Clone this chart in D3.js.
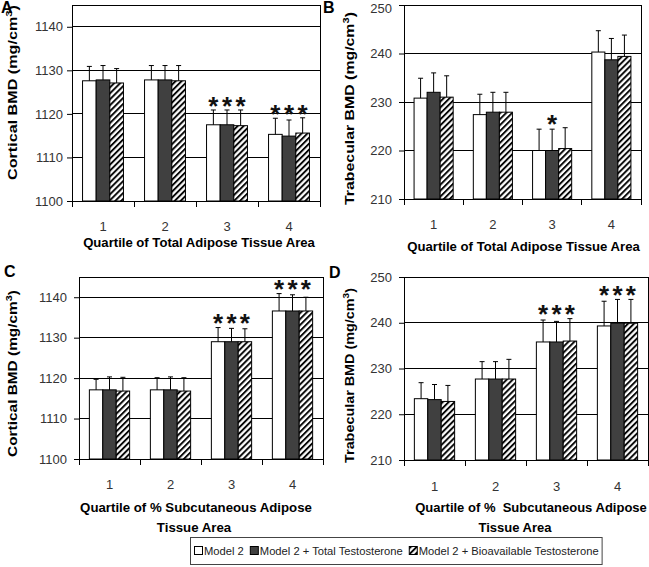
<!DOCTYPE html>
<html><head><meta charset="utf-8">
<script src="https://cdn.jsdelivr.net/npm/d3@7"></script>
<style>body{margin:0;background:#fff}svg{display:block}</style>
</head><body>
<script>
// ---------- DATA ----------
const categories = ["1", "2", "3", "4"];
const seriesNames = ["Model 2", "Model 2 + Total Testosterone", "Model 2 + Bioavailable Testosterone"];

// Panel A: Cortical BMD by quartile of total adipose tissue area
const aModel2 = [1127.6, 1127.8, 1117.5, 1115.3];
const aTotalT = [1127.8, 1127.8, 1117.5, 1114.9];
const aBioT   = [1127.1, 1127.6, 1117.3, 1115.6];
const aModel2Upper = [1130.9, 1131.1, 1120.9, 1119.0];
const aTotalTUpper = [1131.1, 1131.1, 1120.9, 1118.6];
const aBioTUpper   = [1130.4, 1131.1, 1120.9, 1119.1];
const aStars = [[0,0,0],[0,0,0],[1,1,1],[1,1,1]];
const aTicks = [1100, 1110, 1120, 1130, 1140];

// Panel B: Trabecular BMD by quartile of total adipose tissue area
const bModel2 = [230.8, 227.4, 220.0, 240.3];
const bTotalT = [232.0, 227.9, 220.0, 238.7];
const bBioT   = [231.0, 227.9, 220.4, 239.4];
const bModel2Upper = [234.9, 231.6, 224.4, 244.7];
const bTotalTUpper = [236.0, 232.0, 224.4, 243.1];
const bBioTUpper   = [235.4, 232.0, 224.7, 243.8];
const bStars = [[0,0,0],[0,0,0],[0,1,0],[0,0,0]];
const bTicks = [210, 220, 230, 240, 250];

// Panel C: Cortical BMD by quartile of % subcutaneous adipose tissue area
const cModel2 = [1117.1, 1117.1, 1129.0, 1136.6];
const cTotalT = [1117.1, 1117.1, 1129.0, 1136.6];
const cBioT   = [1116.8, 1116.8, 1129.0, 1136.6];
const cModel2Upper = [1119.7, 1120.1, 1132.5, 1140.9];
const cTotalTUpper = [1120.3, 1120.3, 1132.3, 1140.6];
const cBioTUpper   = [1120.2, 1120.1, 1132.2, 1140.0];
const cStars = [[0,0,0],[0,0,0],[1,1,1],[1,1,1]];
const cTicks = [1100, 1110, 1120, 1130, 1140];

// Panel D: Trabecular BMD by quartile of % subcutaneous adipose tissue area
const dModel2 = [223.4, 227.7, 235.8, 239.3];
const dTotalT = [223.2, 227.7, 235.8, 239.9];
const dBioT   = [222.8, 227.7, 236.0, 239.9];
const dModel2Upper = [226.9, 231.5, 240.6, 244.7];
const dTotalTUpper = [226.5, 231.5, 240.3, 245.1];
const dBioTUpper   = [226.3, 232.0, 240.9, 245.1];
const dStars = [[0,0,0],[0,0,0],[1,1,1],[1,1,1]];
const dTicks = [210, 220, 230, 240, 250];

// ---------- LAYOUT ----------
const W = 649, H = 567;
const svg = d3.select("body").append("svg").attr("width", W).attr("height", H);
const defs = svg.append("defs");
const pat = defs.append("pattern").attr("id", "hatch").attr("patternUnits", "userSpaceOnUse")
  .attr("width", 4.2).attr("height", 4.2).attr("patternTransform", "rotate(45)");
pat.append("rect").attr("width", 4.2).attr("height", 4.2).attr("fill", "#fff");
pat.append("line").attr("x1", 1).attr("y1", 0).attr("x2", 1).attr("y2", 4.2)
  .attr("stroke", "#000").attr("stroke-width", 1.9);

const fills = ["#ffffff", "#404040", "url(#hatch)"];
const fontReg = "'Liberation Sans', Arial, sans-serif";
const titleSize = 13.5;

const panels = [
  {letter: "A", lx: 1, ly: 13, left: 72, right: 320, top: 5, bottom: 201, domain: [1100, 1145], ticks: aTicks,
   series: [aModel2, aTotalT, aBioT], upper: [aModel2Upper, aTotalTUpper, aBioTUpper], stars: aStars, pad: 4,
   yTitle: ["Cortical BMD (mg/cm", "3", ")"], yx: 16.5, yc: 92.5, yLen: 175,
   xTitle: [["Quartile of Total Adipose Tissue Area", 199, 246.5, 232]], catY: 231},
  {letter: "B", lx: 323, ly: 13, left: 404, right: 641, top: 5, bottom: 199, domain: [210, 250], ticks: bTicks,
   series: [bModel2, bTotalT, bBioT], upper: [bModel2Upper, bTotalTUpper, bBioTUpper], stars: bStars, pad: 7,
   yTitle: ["Trabecular BMD (mg/cm", "3", ")"], yx: 353.5, yc: 108.5, yLen: 193,
   xTitle: [["Quartile of Total Adipose Tissue Area", 523.5, 250.5, 233]], catY: 229},
  {letter: "C", lx: 4, ly: 277, left: 79, right: 323, top: 277, bottom: 459, domain: [1100, 1145], ticks: cTicks,
   series: [cModel2, cTotalT, cBioT], upper: [cModel2Upper, cTotalTUpper, cBioTUpper], stars: cStars, pad: 7,
   yTitle: ["Cortical BMD (mg/cm", "3", ")"], yx: 16.5, yc: 373.5, yLen: 167,
   xTitle: [["Quartile of % Subcutaneous Adipose", 196, 511.5, 232], ["Tissue Area", 194, 531.5, null]], catY: 489},
  {letter: "D", lx: 329, ly: 278, left: 404, right: 648, top: 277, bottom: 460, domain: [210, 250], ticks: dTicks,
   series: [dModel2, dTotalT, dBioT], upper: [dModel2Upper, dTotalTUpper, dBioTUpper], stars: dStars, pad: 7,
   yTitle: ["Trabecular BMD (mg/cm", "3", ")"], yx: 353.5, yc: 375.5, yLen: 175,
   xTitle: [["Quartile of %\u00a0 Subcutaneous Adipose", 531, 511.5, 232], ["Tissue Area", 515, 532, null]], catY: 491}
];

function fitH(t, cx, cy, target, rotate, forcedScale) {
  const w = t.node().getComputedTextLength();
  const s = forcedScale || target / w;
  t.attr("text-anchor", "middle").attr("x", 0).attr("y", 0)
   .attr("transform", `translate(${cx},${cy})${rotate ? " rotate(-90)" : ""} scale(${s},1)`);
  return s;
}

panels.forEach(p => {
  const g = svg.append("g");
  const y = d3.scaleLinear().domain(p.domain).range([p.bottom, p.top]);
  const x = d3.scaleBand().domain(categories).range([p.left, p.right]);
  const bw = x.bandwidth() * 0.22;

  // gridlines
  g.selectAll(".grid").data(p.ticks.filter(t => t > p.domain[0])).enter().append("line")
    .attr("x1", p.left).attr("x2", p.right).attr("y1", d => y(d)).attr("y2", d => y(d))
    .attr("stroke", "#000").attr("stroke-width", 1).attr("shape-rendering", "crispEdges");
  // frame
  g.append("path").attr("d", `M${p.left},${p.bottom}V${p.top}H${p.right}V${p.bottom}`)
    .attr("fill", "none").attr("stroke", "#000").attr("shape-rendering", "crispEdges");

  // bars
  categories.forEach((c, ci) => {
    const x0 = x(c) + x.bandwidth() / 2 - 1.5 * bw;
    p.series.forEach((s, si) => {
      const v = s[ci];
      g.append("rect").attr("x", x0 + si * bw).attr("y", y(v)).attr("width", bw)
        .attr("height", y(p.domain[0]) - y(v)).attr("fill", fills[si])
        .attr("stroke", "#000").attr("stroke-width", 1);
    });
    p.series.forEach((s, si) => {
      const cx = x0 + si * bw + bw / 2;
      const v = s[ci], u = p.upper[si][ci];
      g.append("line").attr("x1", cx).attr("x2", cx).attr("y1", y(v)).attr("y2", y(u)).attr("stroke", "#000");
      g.append("line").attr("x1", cx - 2.5).attr("x2", cx + 2.5).attr("y1", y(u)).attr("y2", y(u)).attr("stroke", "#000");
    });
    // stars
    const topU = d3.max(p.upper.map(u => u[ci]));
    const sy = y(topU) - 10;
    p.stars[ci].forEach((st, si) => {
      if (!st) return;
      const cx = x0 + si * bw + bw / 2;
      g.append("text").attr("x", cx).attr("y", sy + 0.57 * 26).attr("text-anchor", "middle")
        .attr("font-family", fontReg).attr("font-weight", "bold").attr("font-size", 26).attr("fill", "#111")
        .text("*");
    });
  });

  // y axis
  const ax = g.append("g").attr("transform", `translate(${p.left},0)`)
    .call(d3.axisLeft(y).tickValues(p.ticks).tickSize(5).tickSizeOuter(0).tickPadding(p.pad).tickFormat(d3.format("d")));
  ax.select(".domain").attr("stroke", "#000");
  ax.selectAll("text").attr("font-family", fontReg).attr("font-size", 13).attr("fill", "#333");
  ax.selectAll(".tick line").attr("stroke", "#000");
  // keep a label at the very top edge inside the page
  ax.selectAll(".tick").filter(d => y(d) < 8).select("text").attr("y", d => 8 - y(d));

  // x axis
  g.append("line").attr("x1", p.left).attr("x2", p.right).attr("y1", p.bottom).attr("y2", p.bottom)
    .attr("stroke", "#000").attr("shape-rendering", "crispEdges");
  const bounds = categories.map(c => x(c)).concat([x.range()[1]]);
  g.selectAll(".xt").data(bounds).enter().append("line")
    .attr("x1", d => d).attr("x2", d => d).attr("y1", p.bottom).attr("y2", p.bottom + 6)
    .attr("stroke", "#000").attr("shape-rendering", "crispEdges");
  g.selectAll(".cat").data(categories).enter().append("text")
    .attr("x", d => x(d) + x.bandwidth() / 2).attr("y", p.catY).attr("text-anchor", "middle")
    .attr("font-family", fontReg).attr("font-size", 13).attr("fill", "#333").text(d => d);

  // titles
  let lastScale = null;
  p.xTitle.forEach(([txt, cx, by, len]) => {
    const t = g.append("text").attr("font-family", fontReg).attr("font-weight", "bold")
      .attr("font-size", titleSize).attr("fill", "#000").text(txt);
    lastScale = fitH(t, cx, by, len, false, len == null ? lastScale : null);
  });
  const yt = g.append("text").attr("font-family", fontReg).attr("font-weight", "bold")
    .attr("font-size", titleSize).attr("fill", "#000");
  yt.append("tspan").text(p.yTitle[0]);
  yt.append("tspan").attr("baseline-shift", "super").attr("font-size", 9.5).text(p.yTitle[1]);
  yt.append("tspan").text(p.yTitle[2]);
  fitH(yt, p.yx, p.yc, p.yLen, true);

  // panel letter
  g.append("text").attr("x", p.lx).attr("y", p.ly).attr("font-family", fontReg).attr("font-weight", "bold")
    .attr("font-size", 16).attr("fill", "#000").text(p.letter);
});

// ---------- LEGEND ----------
const lg = svg.append("g");
const box = lg.append("rect").attr("x", 190.5).attr("y", 537.5).attr("height", 27).attr("fill", "#fff")
  .attr("stroke", "#444").attr("stroke-width", 1);
let cx = 194;
const ly = 555;
seriesNames.forEach((n, i) => {
  lg.append("rect").attr("x", cx + 0.5).attr("y", ly - 8.5).attr("width", 8).attr("height", 8)
    .attr("fill", fills[i]).attr("stroke", "#000");
  const t = lg.append("text").attr("x", cx + 10).attr("y", ly).attr("font-family", fontReg)
    .attr("font-size", 11.2).attr("fill", "#222").text(n);
  cx += 10 + t.node().getComputedTextLength() + 6;
});
box.attr("width", cx - 6 + 3 - 190);
</script>
</body></html>
